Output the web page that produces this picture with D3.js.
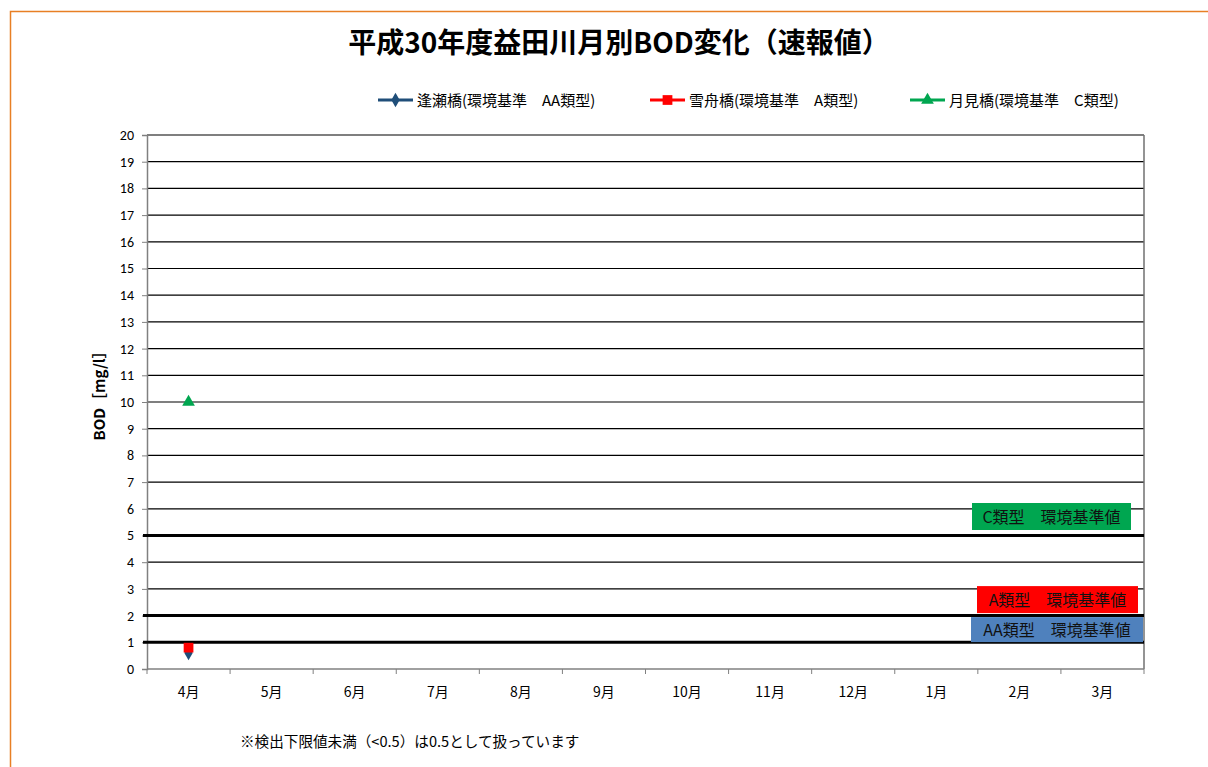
<!DOCTYPE html>
<html>
<head>
    <meta charset="utf-8">
    <title>平成30年度益田川月別BOD変化（速報値）</title>
    <script src="https://d3js.org/d3.v7.min.js"></script>
    <style>
        body { margin: 0; background: #fff; }
        svg { display: block; font-family: "Noto Sans CJK JP", "Noto Sans", sans-serif; }
    </style>
</head>
<body>
    <svg width="1208" height="767"></svg>

    <script>
        // Chart data
        const months = ["4月", "5月", "6月", "7月", "8月", "9月", "10月", "11月", "12月", "1月", "2月", "3月"];
        const seriesNames = ["逢瀬橋(環境基準　AA類型)", "雪舟橋(環境基準　A類型)", "月見橋(環境基準　C類型)"];
        const ouseValues = [0.6, null, null, null, null, null, null, null, null, null, null, null];
        const sesshuValues = [0.8, null, null, null, null, null, null, null, null, null, null, null];
        const tsukimiValues = [10, null, null, null, null, null, null, null, null, null, null, null];
        const yTicks = d3.range(0, 21);
        const standardValues = [1, 2, 5];
        const standardLabels = ["AA類型　環境基準値", "A類型　環境基準値", "C類型　環境基準値"];

        const svg = d3.select("svg");

        // orange frame on the left / top
        svg.append("path")
            .attr("d", "M10.5,767 V11.5 H1208")
            .attr("fill", "none")
            .attr("stroke", "#e87f24")
            .attr("stroke-width", 1.5);

        const margin = { top: 135, left: 147 };
        const width = 997, height = 534;
        const g = svg.append("g").attr("transform", `translate(${margin.left},${margin.top})`);

        const x = d3.scaleBand().domain(months).range([0, width]);
        const y = d3.scaleLinear().domain([0, 20]).range([height, 0]);

        // horizontal gridlines
        g.selectAll(".grid").data(yTicks.filter(d => d > 0)).enter().append("line")
            .attr("x1", 0).attr("x2", width)
            .attr("y1", d => y(d)).attr("y2", d => y(d))
            .attr("stroke", "#000").attr("stroke-width", 1.2);

        // right border
        g.append("line").attr("x1", width).attr("x2", width).attr("y1", 0).attr("y2", height)
            .attr("stroke", "#707070").attr("stroke-width", 1.5);

        // y axis
        const yAxis = g.append("g").call(d3.axisLeft(y).tickValues(yTicks).tickSize(5).tickPadding(8).tickFormat(d3.format("d")));
        yAxis.select(".domain").attr("stroke", "#808080").attr("stroke-width", 1.5);
        yAxis.selectAll(".tick line").attr("stroke", "#808080");
        yAxis.selectAll("text").attr("font-size", 14).attr("fill", "#000")
            .attr("font-family", "Calibri, Carlito, 'Liberation Sans', sans-serif");

        // x axis with ticks on category boundaries
        const xAxisG = g.append("g").attr("transform", `translate(0,${height})`);
        xAxisG.append("line").attr("x1", 0).attr("x2", width).attr("y1", 0).attr("y2", 0)
            .attr("stroke", "#808080").attr("stroke-width", 1.5);
        xAxisG.selectAll(".xtick").data(months.concat(["end"])).enter().append("line")
            .attr("x1", (d, i) => i * x.step()).attr("x2", (d, i) => i * x.step())
            .attr("y1", 0).attr("y2", 5).attr("stroke", "#808080");
        xAxisG.selectAll(".xlabel").data(months).enter().append("text")
            .attr("x", d => x(d) + x.bandwidth() / 2)
            .attr("y", 28)
            .attr("text-anchor", "middle")
            .attr("font-size", 14)
            .text(d => d);

        // environmental standard lines
        g.selectAll(".std").data(standardValues).enter().append("line")
            .attr("x1", -4).attr("x2", width)
            .attr("y1", d => y(d)).attr("y2", d => y(d))
            .attr("stroke", "#000").attr("stroke-width", 3);

        // standard label boxes (anchored to the nearest thick line)
        const boxes = [
            { v: standardValues[1], text: standardLabels[0], fill: "#4f81bd", x0: 824, w: 172, dy: 1.5 },
            { v: standardValues[1], text: standardLabels[1], fill: "#ff0000", x0: 830, w: 161, dy: -29.5 },
            { v: standardValues[2], text: standardLabels[2], fill: "#00a650", x0: 825, w: 159, dy: -32.5 }
        ];
        const boxG = g.selectAll(".box").data(boxes).enter().append("g")
            .attr("transform", d => `translate(${d.x0},${y(d.v) + d.dy})`);
        boxG.append("rect").attr("width", d => d.w).attr("height", d => d.dy > 0 ? 25 : 27).attr("fill", d => d.fill);
        boxG.append("text")
            .attr("x", d => d.w / 2).attr("y", d => d.dy > 0 ? 18.5 : 19.5)
            .attr("text-anchor", "middle")
            .attr("font-size", 16)
            .attr("fill", "#111")
            .text(d => d.text);

        // data series
        const series = [
            { values: ouseValues, color: "#1f4e79", shape: d3.symbolDiamond, size: 60 },
            { values: sesshuValues, color: "#ff0000", shape: d3.symbolSquare, size: 95 },
            { values: tsukimiValues, color: "#00a650", shape: d3.symbolTriangle, size: 70 }
        ];
        series.forEach(s => {
            const pts = months.map((m, i) => ({ m, v: s.values[i] })).filter(p => p.v != null);
            g.append("path").datum(pts)
                .attr("fill", "none").attr("stroke", s.color).attr("stroke-width", 2.5)
                .attr("d", d3.line().x(p => x(p.m) + x.bandwidth() / 2).y(p => y(p.v)));
            g.selectAll(null).data(pts).enter().append("path")
                .attr("transform", p => `translate(${x(p.m) + x.bandwidth() / 2},${y(p.v)})`)
                .attr("d", d3.symbol().type(s.shape).size(s.size))
                .attr("fill", s.color);
        });

        // title
        svg.append("text")
            .attr("x", 619).attr("y", 53)
            .attr("text-anchor", "middle")
            .attr("font-size", 28).attr("font-weight", "bold")
            .text("平成30年度益田川月別BOD変化（速報値）");

        // legend
        const legendX = [378, 650, 910];
        const legend = svg.selectAll(".legend").data(series).enter().append("g")
            .attr("transform", (d, i) => `translate(${legendX[i]},100)`);
        legend.append("line").attr("x1", 0).attr("x2", 35).attr("stroke", d => d.color).attr("stroke-width", 3);
        legend.append("path").attr("transform", "translate(17.5,0)")
            .attr("d", d => d3.symbol().type(d.shape).size(d.size)())
            .attr("fill", d => d.color);
        legend.append("text").attr("x", 39).attr("y", 5.5)
            .attr("font-size", 15)
            .text((d, i) => seriesNames[i]);

        // y axis title
        svg.append("text")
            .attr("transform", "translate(105,392) rotate(-90)")
            .attr("text-anchor", "middle")
            .attr("font-size", 15).attr("font-weight", "bold")
            .text("BOD［mg/l］");

        // footnote
        svg.append("text")
            .attr("x", 240).attr("y", 747)
            .attr("font-size", 14.6)
            .text("※検出下限値未満（<0.5）は0.5として扱っています");
    </script>
</body>
</html>
